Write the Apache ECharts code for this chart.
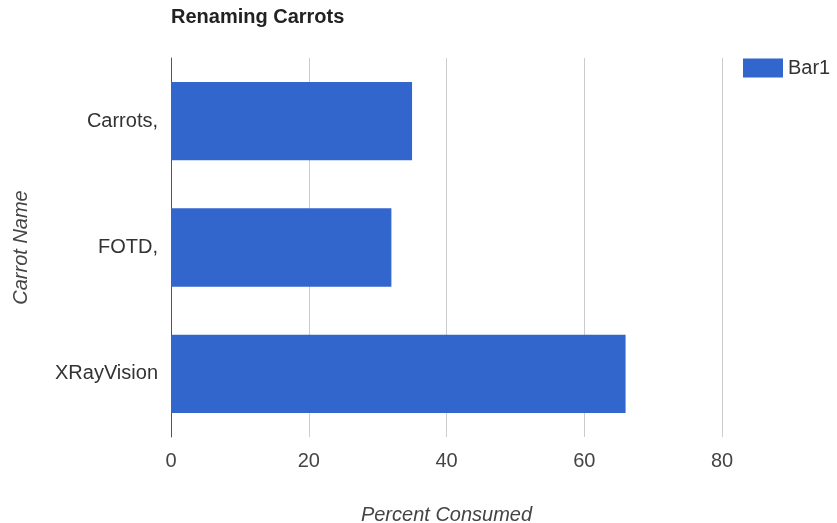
<!DOCTYPE html>
<html>
<head>
<meta charset="utf-8">
<script src="https://cdn.jsdelivr.net/npm/echarts@6/dist/echarts.min.js"></script>
<style>
  html, body { margin: 0; padding: 0; background: #fff; }
  #chart { width: 837px; height: 523px; }
</style>
</head>
<body>
<div id="chart"></div>
<script>
// data
var carrotNames = ['Carrots,', 'FOTD,', 'XRayVision'];
var bar1Values = [35, 32, 66];
var xTicks = [0, 20, 40, 60, 80];

var chart = echarts.init(document.getElementById('chart'));
var font = 'Liberation Sans, Arial, sans-serif';

var option = {
  backgroundColor: '#fff',
  animation: false,
  textStyle: { fontFamily: font },
  title: {
    text: 'Renaming Carrots',
    left: 166,
    top: 2,
    textStyle: { fontFamily: font, fontSize: 20, fontWeight: 'bold', color: '#222' }
  },
  legend: {
    data: ['Bar1'],
    left: 738,
    top: 53,
    icon: 'rect',
    itemWidth: 40,
    itemHeight: 19,
    itemGap: 8,
    textStyle: { fontFamily: font, fontSize: 20, color: '#333' }
  },
  grid: {
    left: 171,
    right: 115,
    top: 58,
    bottom: 86,
    containLabel: false,
    outerBoundsMode: 'none'
  },
  xAxis: {
    type: 'value',
    min: xTicks[0],
    max: xTicks[xTicks.length - 1],
    interval: 20,
    name: 'Percent Consumed',
    nameLocation: 'middle',
    nameGap: 68,
    nameTextStyle: { fontFamily: font, fontSize: 20, fontStyle: 'italic', color: '#444' },
    axisLine: { show: false },
    axisTick: { show: false },
    axisLabel: { fontFamily: font, fontSize: 20, color: '#444', margin: 14 },
    splitLine: { show: true, lineStyle: { color: '#ccc', width: 1 } }
  },
  yAxis: {
    type: 'category',
    data: carrotNames,
    inverse: true,
    name: 'Carrot Name',
    nameLocation: 'middle',
    nameGap: 140,
    nameTextStyle: { fontFamily: font, fontSize: 20, fontStyle: 'italic', color: '#444' },
    axisLine: { show: true, lineStyle: { color: '#555', width: 1 } },
    axisTick: { show: false },
    axisLabel: { fontFamily: font, fontSize: 20, color: '#333', margin: 13 },
    splitLine: { show: false }
  },
  series: [{
    name: 'Bar1',
    type: 'bar',
    data: bar1Values,
    barCategoryGap: '38%',
    itemStyle: { color: '#3366cc' }
  }]
};

chart.setOption(option);
</script>
</body>
</html>
